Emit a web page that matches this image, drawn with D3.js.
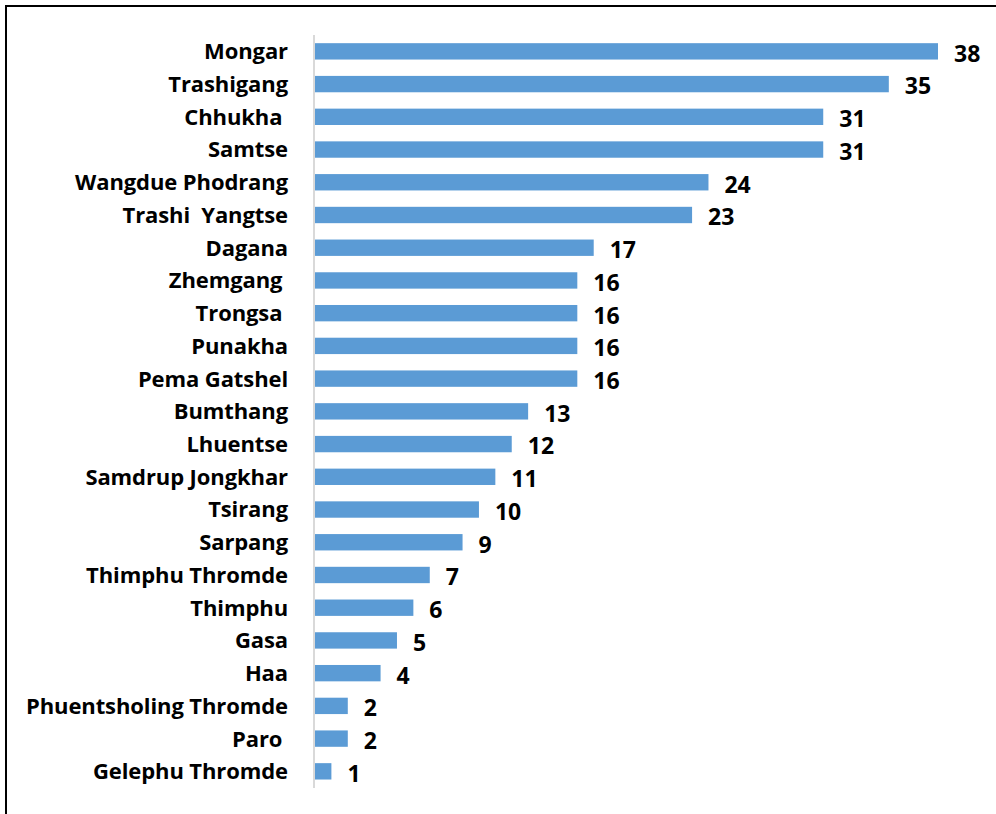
<!DOCTYPE html>
<html>
<head>
<meta charset="utf-8">
<script src="https://cdn.jsdelivr.net/npm/d3@7"></script>
<style>
html,body{margin:0;padding:0;background:#fff;}
svg{display:block;}
text{font-weight:bold;fill:#000;white-space:pre;}
.lab{font-family:"Open Sans",Lato,sans-serif;}
.val{font-family:"Open Sans",Lato,sans-serif;}
</style>
</head>
<body>
<svg id="chart" width="996" height="814"></svg>
<script>
const categories = ["Mongar","Trashigang","Chhukha ","Samtse","Wangdue Phodrang","Trashi  Yangtse","Dagana","Zhemgang ","Trongsa ","Punakha","Pema Gatshel","Bumthang","Lhuentse","Samdrup Jongkhar","Tsirang","Sarpang","Thimphu Thromde","Thimphu","Gasa","Haa","Phuentsholing Thromde","Paro ","Gelephu Thromde"];
const values = [38,35,31,31,24,23,17,16,16,16,16,13,12,11,10,9,7,6,5,4,2,2,1];

const svg = d3.select("#chart");
const W = 996, H = 814;

// frame (top and left edges visible)
svg.append("line").attr("x1",5).attr("x2",W).attr("y1",6).attr("y2",6).attr("stroke","#000").attr("stroke-width",2);
svg.append("line").attr("x1",6).attr("x2",6).attr("y1",5).attr("y2",H).attr("stroke","#000").attr("stroke-width",2);

const x = d3.scaleLinear().domain([0,38]).range([315,938]);
const y = d3.scaleBand().domain(categories).range([35,787.7]).paddingInner(0.5).paddingOuter(0.25);

const data = categories.map((c,i)=>({c, v: values[i]}));

svg.append("g").selectAll("rect").data(data).join("rect")
  .attr("x", x(0))
  .attr("y", d=>y(d.c))
  .attr("width", d=>x(d.v)-x(0))
  .attr("height", y.bandwidth())
  .attr("fill","#5B9BD5");

// axis line
svg.append("line").attr("x1",314).attr("x2",314).attr("y1",35).attr("y2",788)
  .attr("stroke","#D9D9D9").attr("stroke-width",2);

// category labels
svg.append("g").selectAll("text").data(data).join("text")
  .attr("class","lab")
  .attr("x", 288)
  .attr("y", d=>y(d.c)+y.bandwidth()/2)
  .attr("dy","0.36em")
  .attr("text-anchor","end")
  .attr("font-size",22)
  .attr("letter-spacing","-0.1")
  .text(d=>d.c);

// value labels
svg.append("g").selectAll("text").data(data).join("text")
  .attr("class","val")
  .attr("x", d=>x(d.v)+16)
  .attr("y", d=>y(d.c)+y.bandwidth()/2)
  .attr("dy","0.45em")
  .attr("text-anchor","start")
  .attr("font-size",23)
  .text(d=>d.v);
</script>
</body>
</html>
